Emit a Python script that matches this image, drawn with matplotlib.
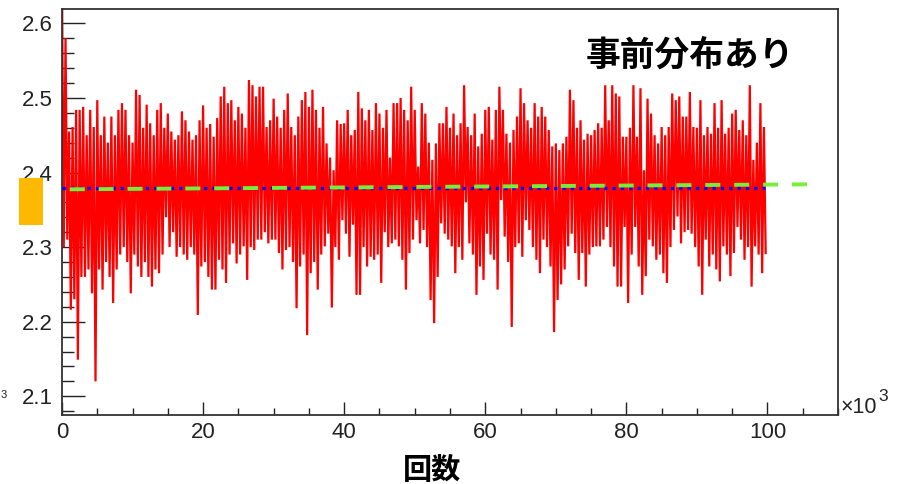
import numpy as np
import matplotlib
matplotlib.use("Agg")
import matplotlib.pyplot as plt
from matplotlib.patches import Rectangle
from matplotlib.ticker import MultipleLocator, FormatStrFormatter

plt.rcParams['font.family'] = ['Liberation Sans', 'Noto Sans CJK JP', 'DejaVu Sans']
plt.rcParams['lines.scale_dashes'] = False

# ---------------- data (iterations in units of 10^3) ----------------
title_text = "事前分布あり"
xlabel_text = "回数"

# sample positions of the upper / lower excursions of the trace (x10^3)
iter_hi = np.arange(0, 100, 0.5)
iter_lo = np.arange(0, 100, 0.5) + 0.25

trace_hi = [
    2.66, 2.58, 2.455, 2.461, 2.484, 2.484, 2.488, 2.45, 2.484, 2.461,
    2.497, 2.45, 2.475, 2.44, 2.475, 2.45, 2.484, 2.493, 2.484, 2.45,
    2.44, 2.511, 2.504, 2.46, 2.491, 2.466, 2.45, 2.484, 2.493, 2.46,
    2.479, 2.455, 2.444, 2.45, 2.482, 2.47, 2.455, 2.444, 2.45, 2.47,
    2.49, 2.46, 2.465, 2.448, 2.473, 2.502, 2.515, 2.493, 2.497, 2.47,
    2.488, 2.479, 2.46, 2.524, 2.517, 2.502, 2.515, 2.515, 2.461, 2.47,
    2.499, 2.475, 2.46, 2.484, 2.506, 2.461, 2.45, 2.475, 2.497, 2.508,
    2.488, 2.511, 2.484, 2.46, 2.488, 2.439, 2.42, 2.403, 2.47, 2.465,
    2.466, 2.484, 2.45, 2.457, 2.508, 2.486, 2.47, 2.484, 2.457, 2.493,
    2.479, 2.46, 2.484, 2.42, 2.493, 2.493, 2.5, 2.484, 2.47, 2.515,
    2.484, 2.408, 2.493, 2.479, 2.44, 2.417, 2.439, 2.466, 2.466, 2.488,
    2.46, 2.479, 2.45, 2.466, 2.517, 2.461, 2.45, 2.479, 2.435, 2.452,
    2.484, 2.488, 2.444, 2.484, 2.515, 2.484, 2.452, 2.44, 2.457, 2.475,
    2.513, 2.493, 2.47, 2.46, 2.493, 2.475, 2.488, 2.475, 2.457, 2.435,
    2.439, 2.43, 2.439, 2.448, 2.511, 2.497, 2.46, 2.47, 2.444, 2.452,
    2.45, 2.457, 2.466, 2.46, 2.517, 2.47, 2.517, 2.506, 2.502, 2.448,
    2.448, 2.46, 2.517, 2.448, 2.513, 2.403, 2.499, 2.479, 2.45, 2.439,
    2.461, 2.45, 2.461, 2.506, 2.497, 2.502, 2.475, 2.475, 2.508, 2.461,
    2.46, 2.497, 2.45, 2.461, 2.452, 2.493, 2.46, 2.497, 2.452, 2.46,
    2.479, 2.484, 2.457, 2.47, 2.45, 2.517, 2.417, 2.44, 2.493, 2.461,
]

trace_lo = [
    2.30, 2.31, 2.216, 2.23, 2.149, 2.26, 2.26, 2.27, 2.238, 2.12,
    2.27, 2.243, 2.28, 2.26, 2.225, 2.27, 2.29, 2.30, 2.28, 2.238,
    2.29, 2.274, 2.26, 2.28, 2.26, 2.247, 2.27, 2.265, 2.29, 2.34,
    2.30, 2.32, 2.287, 2.30, 2.29, 2.283, 2.30, 2.29, 2.209, 2.274,
    2.28, 2.26, 2.243, 2.243, 2.283, 2.27, 2.252, 2.29, 2.305, 2.278,
    2.29, 2.301, 2.256, 2.30, 2.296, 2.31, 2.31, 2.32, 2.305, 2.31,
    2.31, 2.292, 2.27, 2.296, 2.30, 2.28, 2.218, 2.274, 2.29, 2.182,
    2.265, 2.28, 2.243, 2.29, 2.301, 2.318, 2.219, 2.30, 2.283, 2.336,
    2.318, 2.287, 2.33, 2.236, 2.236, 2.30, 2.274, 2.287, 2.283, 2.29,
    2.252, 2.32, 2.30, 2.305, 2.31, 2.301, 2.283, 2.243, 2.292, 2.31,
    2.336, 2.305, 2.323, 2.30, 2.229, 2.198, 2.26, 2.332, 2.318, 2.31,
    2.301, 2.265, 2.30, 2.283, 2.36, 2.305, 2.29, 2.236, 2.274, 2.256,
    2.318, 2.29, 2.283, 2.243, 2.363, 2.314, 2.28, 2.193, 2.30, 2.305,
    2.287, 2.336, 2.323, 2.30, 2.283, 2.265, 2.31, 2.30, 2.274, 2.186,
    2.229, 2.25, 2.27, 2.301, 2.318, 2.292, 2.256, 2.292, 2.247, 2.29,
    2.30, 2.301, 2.301, 2.31, 2.327, 2.30, 2.274, 2.247, 2.247, 2.327,
    2.225, 2.29, 2.327, 2.274, 2.236, 2.261, 2.31, 2.301, 2.283, 2.29,
    2.265, 2.252, 2.30, 2.323, 2.341, 2.305, 2.32, 2.323, 2.318, 2.30,
    2.274, 2.236, 2.31, 2.274, 2.29, 2.27, 2.254, 2.301, 2.29, 2.261,
    2.292, 2.327, 2.31, 2.283, 2.30, 2.247, 2.301, 2.29, 2.265, 2.292,
]

# mean (blue dotted) and fitted trend (green dashed)
mean_x = [0.0, 99.7]
mean_y = [2.3796, 2.3796]
fit_x = [1.1, 106.5]
fit_y = [2.3775, 2.3842]

xticks = [0, 20, 40, 60, 80, 100]
yticks = [2.1, 2.2, 2.3, 2.4, 2.5, 2.6]

# ---------------- build trace ----------------
tx = np.empty(2 * len(iter_hi))
ty = np.empty(2 * len(iter_hi))
tx[0::2] = iter_hi
tx[1::2] = iter_lo
ty[0::2] = trace_hi
ty[1::2] = trace_lo

W, H = 900, 484
fig = plt.figure(figsize=(9, 4.84), dpi=100)
ax = fig.add_axes([62 / W, 1 - 414.7 / H, (838 - 62) / W, (414.7 - 9) / H])

ax.plot(tx, ty, color='#FF0000', lw=1.6, zorder=2, solid_joinstyle='miter')
ax.plot(mean_x, mean_y, color='#0000FF', lw=2.4, dashes=(2.4, 3.6), zorder=3)
ax.plot(fit_x, fit_y, color='#76EE3C', lw=2.8, dashes=(10.8, 10.0), zorder=4)

ax.set_xlim(0, 110)
ax.set_ylim(2.0753, 2.6192)
ax.set_xticks(xticks)
ax.set_yticks(yticks)
ax.xaxis.set_minor_locator(MultipleLocator(5))
ax.yaxis.set_minor_locator(MultipleLocator(0.02))
ax.yaxis.set_major_formatter(FormatStrFormatter('%.1f'))

ax.tick_params(axis='x', which='major', direction='in', length=9.4, width=1.0,
               labelsize=16, pad=5, color='#222222')
ax.tick_params(axis='x', which='minor', direction='in', length=4.7, width=1.0,
               color='#222222')
ax.tick_params(axis='y', which='major', direction='in', length=16.6, width=1.0,
               labelsize=16, pad=6.5, color='#222222')
ax.tick_params(axis='y', which='minor', direction='in', length=8.6, width=1.0,
               color='#222222')
for lab in ax.get_xticklabels() + ax.get_yticklabels():
    lab.set_color('#222222')

for s in ax.spines.values():
    s.set_linewidth(1.3)
    s.set_color('#333333')

# texts
fig.text(690 / W, 1 - 55 / H, title_text, ha='center', va='center', fontsize=25,
         fontweight='bold', family=['Noto Sans CJK JP', 'DejaVu Sans'])
fig.text(432 / W, 1 - 470 / H, xlabel_text, ha='center', va='center', fontsize=21,
         fontweight='bold', family=['Noto Sans CJK JP', 'DejaVu Sans'])
fig.text(841 / W, 1 - 413 / H, '×10', ha='left', va='baseline', fontsize=15.5,
         color='#222222')
fig.text(878 / W, 1 - 401 / H, '3', ha='left', va='baseline', fontsize=12.5,
         color='#222222')
fig.text(1 / W, 1 - 398 / H, '3', ha='left', va='baseline', fontsize=8,
         color='#222222')

fig.add_artist(Rectangle((19 / W, 1 - 225 / H), 24 / W, 47 / H,
                         transform=fig.transFigure, facecolor='#FFB800',
                         edgecolor='none', zorder=10))

fig.savefig('out.png', dpi=100)
